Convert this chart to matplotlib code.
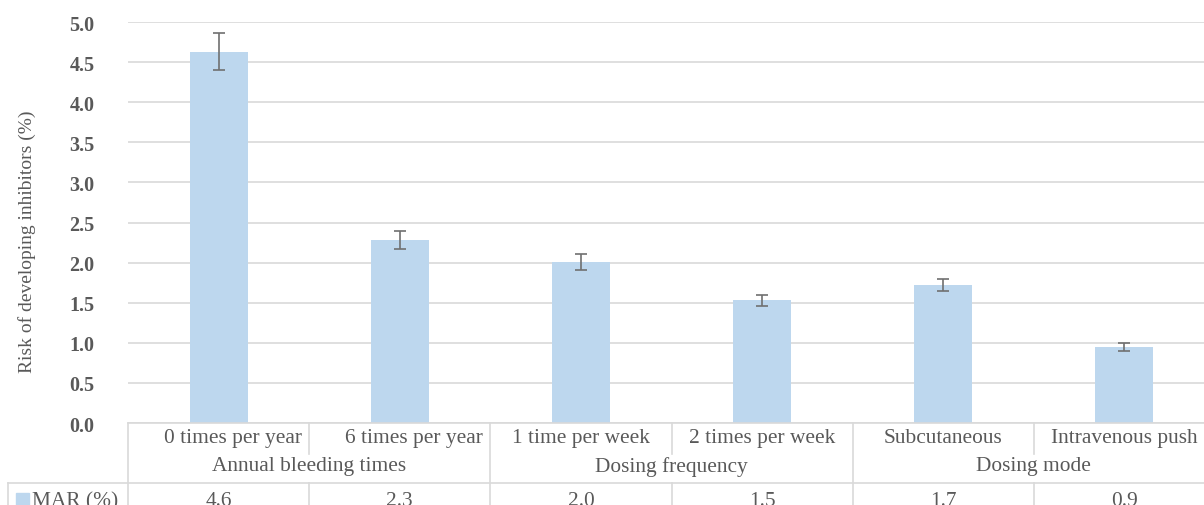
import matplotlib
matplotlib.use("Agg")
import matplotlib.pyplot as plt
from matplotlib.transforms import blended_transform_factory
from matplotlib.lines import Line2D
from matplotlib.patches import Rectangle

categories = ["0 times per year", "6 times per year", "1 time per week",
              "2 times per week", "Subcutaneous", "Intravenous push"]
groups = ["Annual bleeding times", "Dosing frequency", "Dosing mode"]
group_sizes = [2, 2, 2]
values = [4.63, 2.28, 2.01, 1.53, 1.72, 0.95]
errors = [0.23, 0.11, 0.10, 0.07, 0.08, 0.05]
table_labels = ["4.6", "2.3", "2.0", "1.5", "1.7", "0.9"]
series_name = "MAR (%)"
yticks = [0.0, 0.5, 1.0, 1.5, 2.0, 2.5, 3.0, 3.5, 4.0, 4.5, 5.0]

W, H = 1204, 506
plt.rcParams['font.family'] = ['Liberation Serif', 'DejaVu Serif']
fig = plt.figure(figsize=(W / 100, H / 100), dpi=100)

def fx(px):
    return px / W

def fy(py):
    return 1 - py / H

left_px, right_px, top_px, bot_px = 128, 1215, 23, 424
ax = fig.add_axes([fx(left_px), fy(bot_px), fx(right_px - left_px), (bot_px - top_px) / H])

bar_color = "#BDD7EE"
text_color = "#595959"
grid_color = "#D9D9D9"
fs = 15.4

x = list(range(len(categories)))
ax.bar(x, values, width=0.32, color=bar_color, zorder=2)
ax.errorbar(x, values, yerr=errors, fmt='none', ecolor="#707070", elinewidth=1.2,
            capsize=4, capthick=1.2, zorder=3)

ax.set_xlim(-0.5, len(categories) - 0.5)
ax.set_ylim(0, 5.0)
ax.set_yticks(yticks)
ax.set_yticklabels([f"{t:.1f}" for t in yticks], fontsize=14.5, fontweight='bold', color=text_color)
ax.tick_params(axis='y', length=0, pad=24)
ax.set_xticks([])
ax.grid(axis='y', color=grid_color, linewidth=1.2, zorder=0)
for s in ax.spines.values():
    s.set_visible(False)
ax.set_ylabel("Risk of developing inhibitors (%)", fontsize=14, color=text_color)
ax.yaxis.set_label_coords((36 - left_px) / (right_px - left_px), (bot_px - 242) / (bot_px - top_px))

# Table below the axis
tr = blended_transform_factory(ax.transData, fig.transFigure)
lw = 1.2

def hline(x0_px, y_px):
    fig.add_artist(Line2D([fx(x0_px), 1.0], [fy(y_px), fy(y_px)], transform=fig.transFigure,
                          color=grid_color, linewidth=lw))

def vline_data(xd, y0_px, y1_px):
    fig.add_artist(Line2D([xd, xd], [fy(y0_px), fy(y1_px)], transform=tr,
                          color=grid_color, linewidth=lw))

def vline_px(xp, y0_px, y1_px):
    fig.add_artist(Line2D([fx(xp), fx(xp)], [fy(y0_px), fy(y1_px)], transform=fig.transFigure,
                          color=grid_color, linewidth=lw))

cat_y, grp_y, row_line, val_y = 439, 467, 484, 502
hline(left_px, bot_px)
hline(8, row_line)
vline_px(left_px, bot_px, H)
vline_px(8, row_line, H)

# category labels (first group appears right-aligned in the reference)
for i, c in enumerate(categories):
    if i < group_sizes[0]:
        fig.text(i + 0.5 - 7 / 181, fy(cat_y), c, transform=tr, ha='right', va='center',
                 fontsize=fs, color=text_color)
    else:
        fig.text(i, fy(cat_y), c, transform=tr, ha='center', va='center', fontsize=fs, color=text_color)
    fig.text(i, fy(val_y), table_labels[i], transform=tr, ha='center', va='center',
             fontsize=fs, color=text_color)

start = 0
for g, n in zip(groups, group_sizes):
    center = start + (n - 1) / 2
    fig.text(center, fy(grp_y), g, transform=tr, ha='center', va='center', fontsize=fs, color=text_color)
    for k in range(1, n):
        vline_data(start + k - 0.5, bot_px, 455)
        vline_data(start + k - 0.5, row_line, H)
    start += n
    if start < len(categories):
        vline_data(start - 0.5, bot_px, H)

# legend key in table
fig.add_artist(Rectangle((fx(16), fy(506)), fx(13), 12 / H, transform=fig.transFigure,
                         color=bar_color))
fig.text(fx(32), fy(val_y), series_name, ha='left', va='center', fontsize=fs, color=text_color)

fig.savefig("out.png", dpi=100)
